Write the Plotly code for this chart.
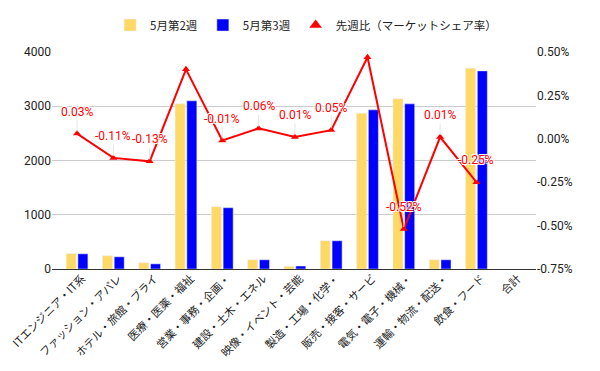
import plotly.graph_objects as go

categories = ["ITエンジニア・IT系", "ファッション・アパレ", "ホテル・旅館・ブライ", "医療・医薬・福祉",
              "営業・事務・企画・", "建設・土木・エネル", "映像・イベント・芸能", "製造・工場・化学・",
              "販売・接客・サービ", "電気・電子・機械・", "運輸・物流・配送・", "飲食・フード", "合計"]
week2 = [282, 245, 115, 3044, 1147, 170, 48, 521, 2873, 3136, 170, 3700, None]
week3 = [280, 225, 95, 3100, 1130, 170, 55, 521, 2934, 3044, 170, 3652, None]
share_change = [0.0003, -0.0011, -0.0013, 0.0040, -0.0001, 0.0006, 0.0001, 0.0005, 0.0047, -0.0052, 0.0001, -0.0025, None]
label_text = ["0.03%", "-0.11%", "-0.13%", "", "-0.01%", "0.06%", "0.01%", "0.05%", "", "-0.52%", "0.01%", "-0.25%", ""]
left_ticks = [0, 1000, 2000, 3000, 4000]
right_ticks = [-0.0075, -0.005, -0.0025, 0, 0.0025, 0.005]
right_tick_text = ["-0.75%", "-0.50%", "-0.25%", "0.00%", "0.25%", "0.50%"]

FONT = "Roboto, 'Noto Sans CJK JP', Arial, sans-serif"
JFONT = "'Noto Sans CJK JP', Roboto, sans-serif"
HALO = "-1px -1px 0 #fff, 1px -1px 0 #fff, -1px 1px 0 #fff, 1px 1px 0 #fff"

fig = go.Figure()
fig.add_trace(go.Bar(x=categories, y=week2, name="5月第2週", marker_color="#FFD966"))
fig.add_trace(go.Bar(x=categories, y=week3, name="5月第3週", marker_color="#0000FF"))
fig.add_trace(go.Scatter(x=categories, y=share_change, name="先週比（マーケットシェア率）", yaxis="y2",
                         mode="lines+markers", line=dict(color="#FF0000", width=2),
                         marker=dict(symbol="triangle-up", size=7, color="#FF0000"),
                         showlegend=False))
# legend entry showing only the triangle marker
fig.add_trace(go.Scatter(x=[None], y=[None], name="先週比（マーケットシェア率）", yaxis="y2",
                         mode="markers", marker=dict(symbol="triangle-up", size=11, color="#FF0000")))

for c, v, t in zip(categories, share_change, label_text):
    if v is None or not t:
        continue
    fig.add_annotation(x=c, y=v, xref="x", yref="y2", text=t, showarrow=True,
                       ax=0, ay=-22, arrowhead=0, arrowwidth=1, arrowcolor="#E6E6E6",
                       font=dict(color="#FF0000", size=12, family=FONT, shadow=HALO), standoff=2)

fig.update_layout(
    width=592, height=363,
    margin=dict(l=44, r=64, t=44, b=102, autoexpand=False),
    paper_bgcolor="white", plot_bgcolor="white",
    font=dict(family=FONT, size=12, color="#222222"),
    barmode="group", bargap=0.355, bargroupgap=0.145,
    showlegend=True,
    legend=dict(orientation="h", x=0.525, xanchor="center", y=1.124, yanchor="middle",
                font=dict(size=11.5, color="#222222", family=JFONT), traceorder="normal"),
    xaxis=dict(range=[-0.69, 12.64], tickangle=-45, showgrid=False, showline=False,
               ticks="", automargin=False, ticklabelshift=5,
               tickfont=dict(size=11, color="#222222", family=JFONT)),
    yaxis=dict(range=[0, 4000], tickvals=left_ticks, showgrid=True, gridcolor="#CCCCCC",
               zeroline=True, zerolinecolor="#333333", zerolinewidth=1, ticks="",
               automargin=False, tickfont=dict(size=12, color="#222222")),
    yaxis2=dict(overlaying="y", side="right", range=[-0.0075, 0.005], tickvals=right_ticks,
                ticktext=right_tick_text, showgrid=False, zeroline=False, ticks="",
                automargin=False, tickfont=dict(size=12, color="#222222")),
)

fig.write_html("out.html")
